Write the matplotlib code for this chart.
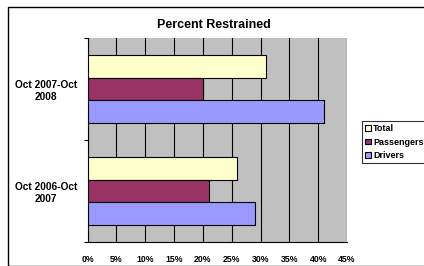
import matplotlib
matplotlib.use("Agg")
import matplotlib.pyplot as plt
from matplotlib.patches import Rectangle
import numpy as np

categories = ["Oct 2006-Oct\n2007", "Oct 2007-Oct\n2008"]
series_names = ["Total", "Passengers", "Drivers"]
total = [26, 31]
passengers = [21, 20]
drivers = [29, 41]
xticks = [0, 5, 10, 15, 20, 25, 30, 35, 40, 45]
colors = ["#FFFFCC", "#993366", "#9999FF"]

plt.rcParams['font.family'] = ['Liberation Sans', 'DejaVu Sans']

W, H = 424, 266
fig = plt.figure(figsize=(W / 100, H / 100), dpi=100)
fig.patch.set_facecolor("white")
fig.add_artist(Rectangle((8 / W, 0), 1, 1 - 7 / H, transform=fig.transFigure,
                         fill=False, edgecolor="black", lw=1.0))

L, R, T, B = 87.5, 347, 38, 242
ax = fig.add_axes([L / W, 1 - B / H, (R - L) / W, (B - T) / H])
ax.set_facecolor("#C0C0C0")

bh = 2 / 9
y = np.arange(len(categories))
vals = [total, passengers, drivers]
offsets = [bh, 0, -bh]
for name, v, c, off in zip(series_names, vals, colors, offsets):
    ax.barh(y + off, v, height=bh, color=c, edgecolor="black", lw=0.8,
            label=name, zorder=3)

ax.set_xlim(0, 45)
ax.set_ylim(-0.5, 1.5)
ax.set_xticks(xticks)
ax.set_xticklabels([f"{t}%" for t in xticks], fontsize=6.3, fontweight="bold")
ax.tick_params(axis="x", length=0, pad=9)
ax.grid(axis="x", color="black", lw=0.8, zorder=1)
ax.set_yticks(y)
ax.set_yticklabels(categories, fontsize=7.3, fontweight="bold", ha="center")
ax.tick_params(axis="y", length=0, pad=30)
ax.set_yticks([-0.5, 0.5, 1.5], minor=True)
ax.tick_params(axis="y", which="minor", length=3, width=0.8, direction="out")
for s in ["top", "right"]:
    ax.spines[s].set_visible(False)
ax.spines["left"].set_linewidth(0.8)
ax.spines["bottom"].set_linewidth(0.8)

fig.text(214 / W, 1 - 25 / H, "Percent Restrained", ha="center", va="center",
         fontsize=9, fontweight="bold")

leg = fig.legend(loc="upper left", bbox_to_anchor=(362 / W, 1 - 121 / H),
                 fontsize=6.5, frameon=True, fancybox=False, edgecolor="black",
                 handlelength=0.6, handleheight=0.6, handletextpad=0.3,
                 borderpad=0.35, labelspacing=0.5, borderaxespad=0)
for t in leg.get_texts():
    t.set_fontweight("bold")
leg.get_frame().set_linewidth(0.8)

fig.savefig("out.png", dpi=100)
